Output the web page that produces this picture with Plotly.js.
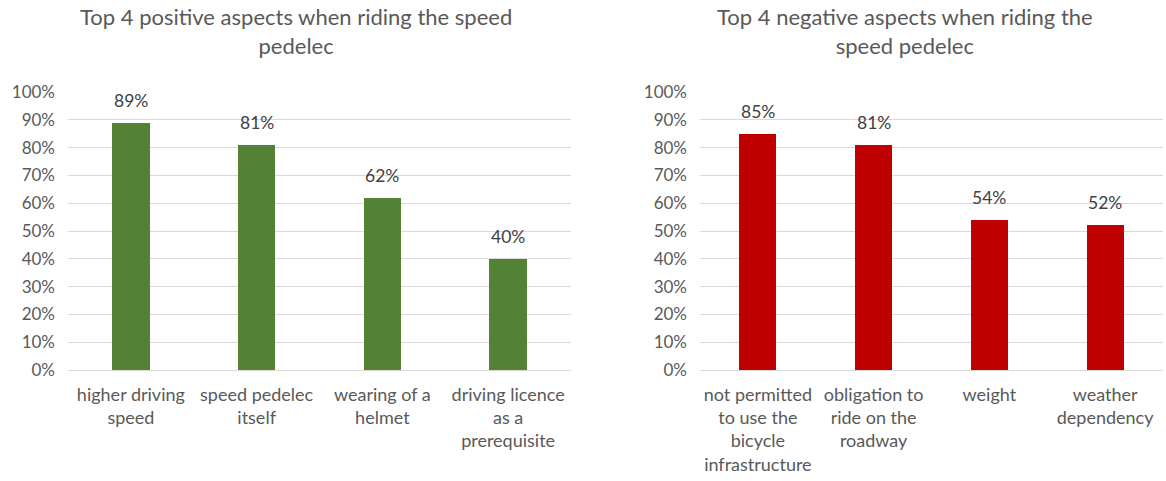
<!DOCTYPE html>
<html>
<head>
<meta charset="utf-8">
<script src="https://cdn.plot.ly/plotly-3.0.1.min.js"></script>
<style>
  html, body { margin: 0; padding: 0; background: #fff; }
  #chart { width: 1166px; height: 481px; }
</style>
</head>
<body>
<div id="chart"></div>
<script>
// Positive aspects (share of riders)
const posCategories = [
  "higher driving<br>speed",
  "speed pedelec<br>itself",
  "wearing of a<br>helmet",
  "driving licence<br>as a<br>prerequisite"
];
const posValues = [0.89, 0.81, 0.62, 0.40];

// Negative aspects (share of riders)
const negCategories = [
  "not permitted<br>to use the<br>bicycle<br>infrastructure",
  "obligation to<br>ride on the<br>roadway",
  "weight",
  "weather<br>dependency"
];
const negValues = [0.85, 0.81, 0.54, 0.52];

const yTicks = [0, 0.1, 0.2, 0.3, 0.4, 0.5, 0.6, 0.7, 0.8, 0.9, 1.0];
const yTickText = ["0%", "10%", "20%", "30%", "40%", "50%", "60%", "70%", "80%", "90%", "100%"];

const posTitle = "Top 4 positive aspects when riding the speed<br>pedelec";
const negTitle = "Top 4 negative aspects when riding the<br>speed pedelec";

const FONT = "Lato, 'Open Sans', sans-serif";
const W = 1166;

const pct = v => Math.round(v * 100) + "%";

const traces = [
  {
    type: "bar", x: posCategories, y: posValues, xaxis: "x", yaxis: "y",
    marker: { color: "#538135" }, width: 0.3,
    hoverinfo: "skip"
  },
  {
    type: "bar", x: negCategories, y: negValues, xaxis: "x2", yaxis: "y2",
    marker: { color: "#c00000" }, width: 0.32,
    hoverinfo: "skip"
  }
];

// Value labels floating above each bar
function valueLabels(cats, vals, xref, yref) {
  return cats.map((c, i) => ({
    x: c, y: vals[i], xref: xref, yref: yref,
    text: pct(vals[i]), showarrow: false,
    xanchor: "center", yanchor: "bottom", yshift: 10,
    font: { family: FONT, size: 17.5, color: "#404040" }
  }));
}

const yaxisBase = {
  range: [0, 1], tickvals: yTicks, ticktext: yTickText,
  showgrid: true, gridcolor: "#d9d9d9", gridwidth: 1,
  zeroline: false, showline: false, ticks: "",
  ticklabelstandoff: 12,
  tickfont: { family: FONT, size: 17, color: "#595959" },
  fixedrange: true
};
const xaxisBase = {
  showgrid: false, zeroline: false, ticks: "",
  showline: true, linecolor: "#d9d9d9", linewidth: 1,
  ticklabelstandoff: 8,
  tickfont: { family: FONT, size: 18, color: "#595959" },
  fixedrange: true
};

const layout = {
  width: W, height: 481,
  margin: { l: 0, r: 0, t: 92, b: 111 },
  paper_bgcolor: "#fff", plot_bgcolor: "#fff",
  showlegend: false,
  bargap: 0,
  xaxis: Object.assign({}, xaxisBase, { domain: [68 / W, 571 / W], anchor: "y" }),
  yaxis: Object.assign({}, yaxisBase, { anchor: "x" }),
  xaxis2: Object.assign({}, xaxisBase, { domain: [700 / W, 1163 / W], anchor: "y2" }),
  yaxis2: Object.assign({}, yaxisBase, { anchor: "x2" }),
  annotations: [
    {
      text: posTitle, xref: "paper", yref: "paper",
      x: 296 / W, y: 1, yshift: 91, xanchor: "center", yanchor: "top",
      showarrow: false, align: "center",
      font: { family: FONT, size: 22, color: "#595959" }
    },
    {
      text: negTitle, xref: "paper", yref: "paper",
      x: 905 / W, y: 1, yshift: 91, xanchor: "center", yanchor: "top",
      showarrow: false, align: "center",
      font: { family: FONT, size: 22, color: "#595959" }
    }
  ].concat(
    valueLabels(posCategories, posValues, "x", "y"),
    valueLabels(negCategories, negValues, "x2", "y2")
  )
};

Plotly.newPlot("chart", traces, layout, { staticPlot: true, displayModeBar: false });
</script>
</body>
</html>
